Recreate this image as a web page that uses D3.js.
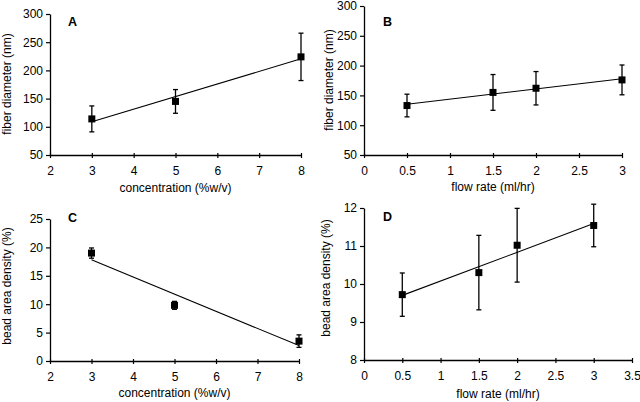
<!DOCTYPE html>
<html><head><meta charset="utf-8">
<script src="https://cdn.jsdelivr.net/npm/d3@7"></script>
<style>
html,body{margin:0;padding:0;background:#fff;}
svg{display:block;font-family:"Liberation Sans",Arial,sans-serif;}
</style></head>
<body><svg id="chart" width="640" height="402"></svg>
<script>
// ---- data ----
const concA = [3, 5, 8];
const diamA = [114, 145, 224];
const diamErrA = [23, 21, 42];

const flowB = [0.5, 1.5, 2, 3];
const diamB = [133, 155, 162, 176];
const diamErrB = [19, 30, 28, 25];

const concC = [3, 5, 8];
const beadC = [19, 9.8, 3.5];
const beadErrC = [0.9, 0.7, 1.1];

const flowD = [0.5, 1.5, 2, 3];
const beadD = [9.72, 10.3, 11.02, 11.54];
const beadErrD = [0.57, 0.98, 0.97, 0.56];

const ticksConc = [2, 3, 4, 5, 6, 7, 8];
const ticksFlowB = [0, 0.5, 1, 1.5, 2, 2.5, 3];
const ticksFlowD = [0, 0.5, 1, 1.5, 2, 2.5, 3, 3.5];
const ticksDiam = [50, 100, 150, 200, 250, 300];
const ticksBeadC = [0, 5, 10, 15, 20, 25];
const ticksBeadD = [8, 9, 10, 11, 12];

const panels = [
  {label:"A", x:concA, y:diamA, e:diamErrA, xd:[2,8], yd:[50,300], xt:ticksConc, yt:ticksDiam,
   box:{l:50,r:301,t:14,b:155}, xlab:"concentration (%w/v)", ylab:"fiber diameter (nm)",
   xlabY:192, ylabX:11, ylabY:84, letter:[68,26]},
  {label:"B", x:flowB, y:diamB, e:diamErrB, xd:[0,3], yd:[50,300], xt:ticksFlowB, yt:ticksDiam,
   box:{l:364,r:622,t:6,b:155}, xlab:"flow rate (ml/hr)", ylab:"fiber diameter (nm)",
   xlabY:191, ylabX:333, ylabY:80, letter:[383,26]},
  {label:"C", x:concC, y:beadC, e:beadErrC, xd:[2,8], yd:[0,25], xt:ticksConc, yt:ticksBeadC,
   box:{l:50,r:299,t:219,b:361}, xlab:"concentration (%w/v)", ylab:"bead area density (%)",
   xlabY:397, ylabX:11, ylabY:286, letter:[68,222]},
  {label:"D", x:flowD, y:beadD, e:beadErrD, xd:[0,3.5], yd:[8,12], xt:ticksFlowD, yt:ticksBeadD,
   box:{l:364,r:632,t:208,b:360}, xlab:"flow rate (ml/hr)", ylab:"bead area density (%)",
   xlabY:398, ylabX:330, ylabY:278, letter:[383,221]}
];

const svg = d3.select("#chart");

function linfit(xs, ys){
  const n = xs.length, mx = d3.mean(xs), my = d3.mean(ys);
  let sxy = 0, sxx = 0;
  for (let i=0;i<n;i++){ sxy += (xs[i]-mx)*(ys[i]-my); sxx += (xs[i]-mx)**2; }
  const m = sxy/sxx; return {m, c: my - m*mx};
}

panels.forEach(p => {
  const b = p.box;
  const xs = d3.scaleLinear().domain(p.xd).range([b.l, b.r]);
  const ys = d3.scaleLinear().domain(p.yd).range([b.b, b.t]);
  const g = svg.append("g");

  const xa = g.append("g").attr("transform",`translate(0,${b.b})`)
    .call(d3.axisBottom(xs).tickValues(p.xt).tickFormat(d3.format("~g")).tickSize(3).tickSizeOuter(0).tickPadding(8));
  xa.selectAll(".tick line").attr("y1",-2);
  const ya = g.append("g").attr("transform",`translate(${b.l},0)`)
    .call(d3.axisLeft(ys).tickValues(p.yt).tickFormat(d3.format("~g")).tickSize(4).tickSizeOuter(0).tickPadding(3));
  [xa, ya].forEach(a => {
    a.select(".domain").attr("stroke","#000").attr("stroke-width",1.3);
    a.selectAll(".tick line").attr("stroke","#000").attr("stroke-width",1.2);
    a.selectAll("text").attr("font-size",12).attr("fill","#000")
      .attr("font-family","'Liberation Sans',Arial,sans-serif");
  });

  const f = linfit(p.x, p.y);
  const x0 = d3.min(p.x), x1 = d3.max(p.x);
  g.append("line")
    .attr("x1", xs(x0)).attr("y1", ys(f.m*x0+f.c))
    .attr("x2", xs(x1)).attr("y2", ys(f.m*x1+f.c))
    .attr("stroke","#000").attr("stroke-width",1.1);

  p.x.forEach((xv,i) => {
    const cx = xs(xv), top = ys(p.y[i]+p.e[i]), bot = ys(p.y[i]-p.e[i]);
    g.append("line").attr("x1",cx).attr("x2",cx).attr("y1",top).attr("y2",bot)
      .attr("stroke","#000").attr("stroke-width",1.3);
    [top,bot].forEach(yy => g.append("line").attr("x1",cx-2.5).attr("x2",cx+2.5)
      .attr("y1",yy).attr("y2",yy).attr("stroke","#000").attr("stroke-width",1.3));
    g.append("rect").attr("x",cx-3.5).attr("y",ys(p.y[i])-3.5)
      .attr("width",7).attr("height",7).attr("fill","#000");
  });

  g.append("text").attr("x",(b.l+b.r)/2).attr("y",p.xlabY).attr("text-anchor","middle")
    .attr("font-size",12).text(p.xlab);
  g.append("text").attr("transform",`translate(${p.ylabX},${p.ylabY}) rotate(-90)`)
    .attr("text-anchor","middle").attr("font-size",12).text(p.ylab);
  g.append("text").attr("x",p.letter[0]).attr("y",p.letter[1]).attr("font-size",12.5)
    .attr("font-weight","bold").text(p.label);
});
</script></body></html>
